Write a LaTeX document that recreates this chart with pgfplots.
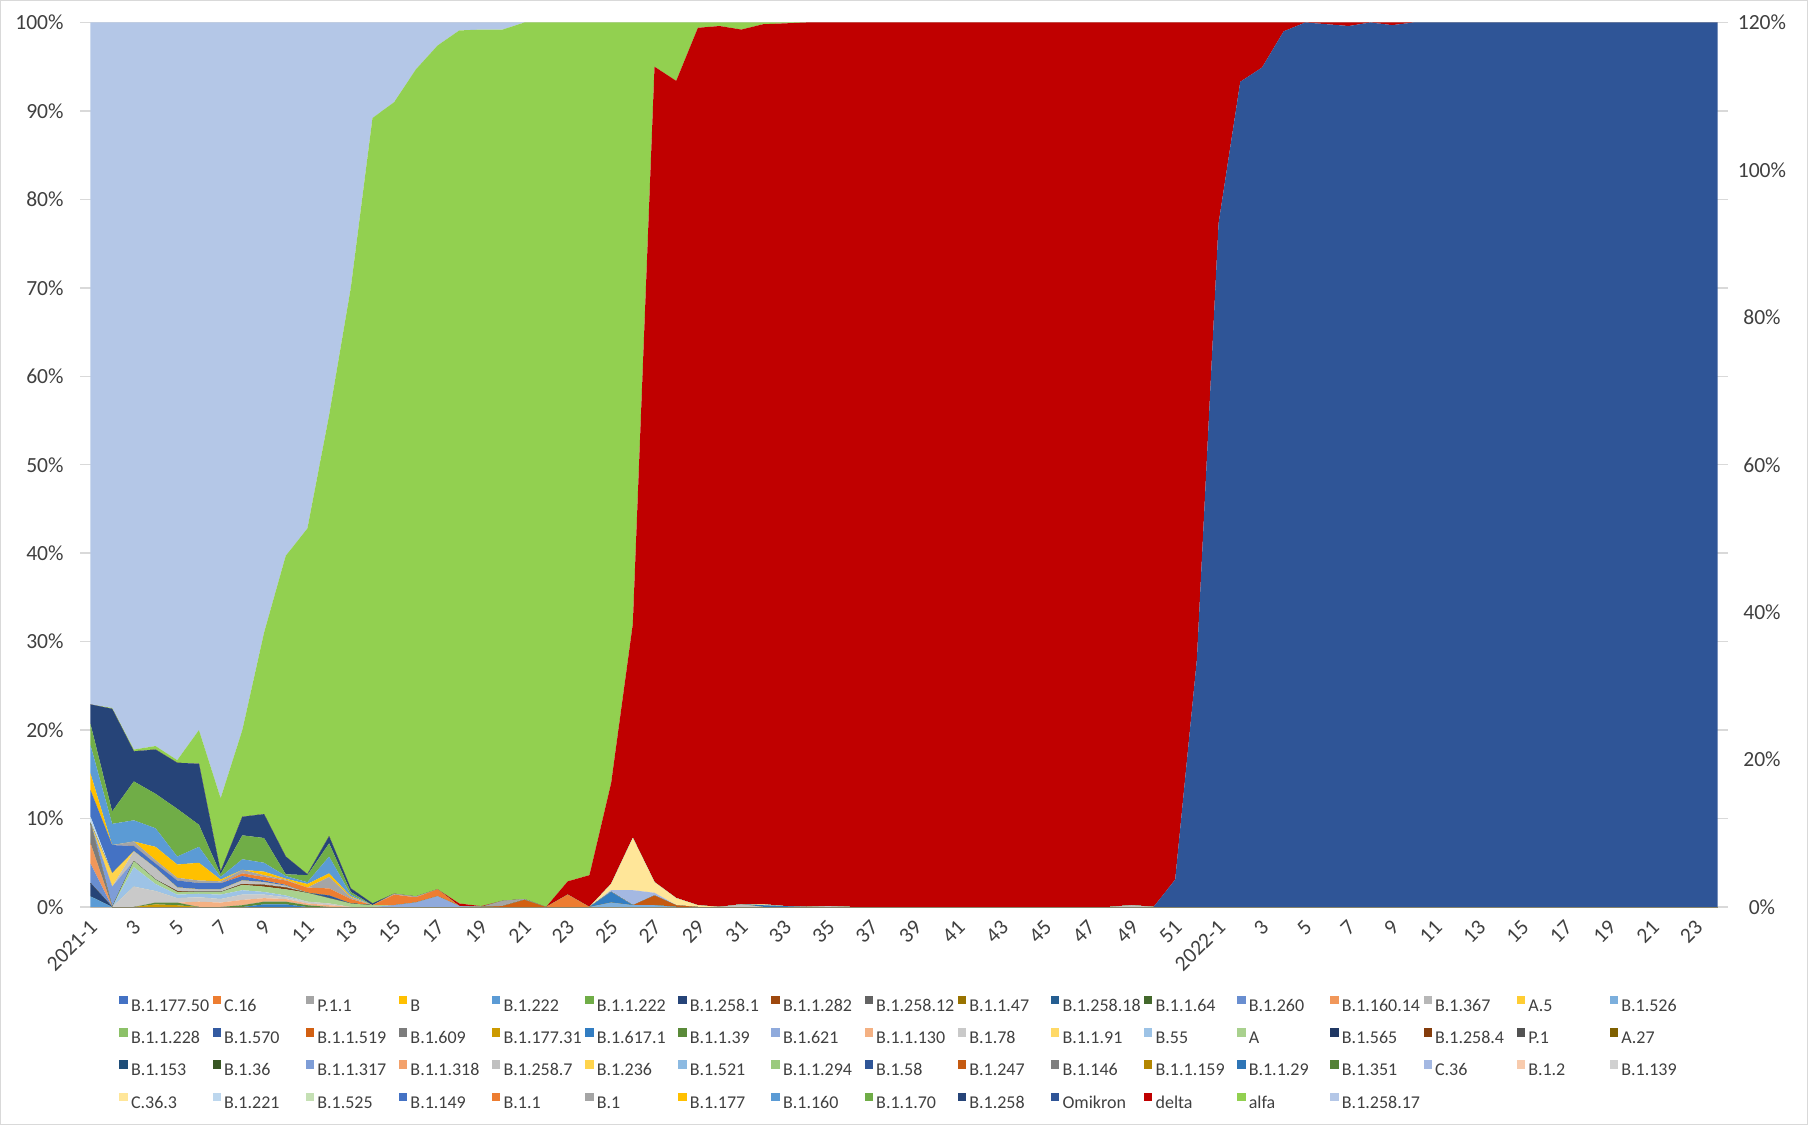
\documentclass[border=0pt]{standalone}
\usepackage{fontspec}
\setmainfont{Carlito}
\usepackage{pgfplots}
\usepackage{pgfplotstable}
\pgfplotsset{compat=1.18}
\definecolor{k1}{HTML}{4472C4}\definecolor{k2}{HTML}{ED7D31}\definecolor{k3}{HTML}{A5A5A5}\definecolor{k4}{HTML}{FFC000}
\definecolor{k5}{HTML}{5B9BD5}\definecolor{k6}{HTML}{70AD47}\definecolor{k7}{HTML}{264478}\definecolor{k8}{HTML}{9E480E}
\definecolor{k9}{HTML}{636363}\definecolor{k10}{HTML}{997300}\definecolor{k11}{HTML}{255E91}\definecolor{k12}{HTML}{43682B}
\definecolor{k13}{HTML}{698ED0}\definecolor{k14}{HTML}{F1975A}\definecolor{k15}{HTML}{B7B7B7}\definecolor{k16}{HTML}{FFCD33}
\definecolor{k17}{HTML}{7CAFDD}\definecolor{k18}{HTML}{8CC168}\definecolor{k19}{HTML}{335AA1}\definecolor{k20}{HTML}{D26012}
\definecolor{k21}{HTML}{7C7C7C}\definecolor{k22}{HTML}{CC9A00}\definecolor{k23}{HTML}{327DC2}\definecolor{k24}{HTML}{5A8A39}
\definecolor{k25}{HTML}{8FAADC}\definecolor{k26}{HTML}{F4B183}\definecolor{k27}{HTML}{C9C9C9}\definecolor{k28}{HTML}{FFD966}
\definecolor{k29}{HTML}{9DC3E6}\definecolor{k30}{HTML}{A9D18E}\definecolor{k31}{HTML}{203864}\definecolor{k32}{HTML}{843C0C}
\definecolor{k33}{HTML}{525252}\definecolor{k34}{HTML}{7F6000}\definecolor{k35}{HTML}{1F4E79}\definecolor{k36}{HTML}{375623}
\definecolor{k37}{HTML}{7E9DD7}\definecolor{k38}{HTML}{F3A16B}\definecolor{k39}{HTML}{C0C0C0}\definecolor{k40}{HTML}{FFD44D}
\definecolor{k41}{HTML}{8CBAE2}\definecolor{k42}{HTML}{9BCA7E}\definecolor{k43}{HTML}{2F5597}\definecolor{k44}{HTML}{C55A11}
\definecolor{k45}{HTML}{7F7F7F}\definecolor{k46}{HTML}{B38600}\definecolor{k47}{HTML}{2E75B6}\definecolor{k48}{HTML}{548235}
\definecolor{k49}{HTML}{A4B8E2}\definecolor{k50}{HTML}{F8CBAD}\definecolor{k51}{HTML}{D0D0D0}\definecolor{k52}{HTML}{FFE699}
\definecolor{k53}{HTML}{BDD7EE}\definecolor{k54}{HTML}{C5E0B4}\definecolor{k55}{HTML}{4472C4}\definecolor{k56}{HTML}{ED7D31}
\definecolor{k57}{HTML}{A5A5A5}\definecolor{k58}{HTML}{FFC000}\definecolor{k59}{HTML}{5B9BD5}\definecolor{k60}{HTML}{70AD47}
\definecolor{k61}{HTML}{264478}\definecolor{k62}{HTML}{2F5597}\definecolor{k63}{HTML}{C00000}\definecolor{k64}{HTML}{92D050}
\definecolor{k65}{HTML}{B4C7E7}
\definecolor{lgrid}{HTML}{D9D9D9}
\definecolor{tickc}{HTML}{404040}
\pgfplotstableread{
x z a5 a7 a13 a14 a17 a20 a21 a22 a23 a24 a25 a26 a27 a29 a30 a32 a37 a39 a40 a43 a44 a47 a49 a52 a53 a55 a56 a57 a58 a59 a60 a61 a62 a63 a64 a65
0 0 1.2 1.5 2.2 2.3 0 0 2.3 0 0 0 0 0 0 0 0 0 0 0 0 0 0 0 0 0 0.7 3.0 0 0 1.9 3.2 2.4 2.2 0 0 0 77.1
1 0 0 0 0 0 0 0 0 0 0 0 0 0 0 0 0 0 2.3 0 1.5 0 0 0 0 0 0 3.2 0 0 0 2.4 1.4 11.6 0 0 0.1 77.5
2 0 0 0 0 0 0 0 0 0 0 0 0 0 2.3 2.2 0.7 0 0 1.1 0 0 0 0 0 0 0 0.6 0 0.5 0 2.4 4.4 3.4 0 0 0.2 82.2
3 0 0 0 0 0 0 0 0 0.3 0 0.2 0 0 1.3 0.8 0.5 0 0 1.3 0 0 0 0 0 0 0 0.5 0 0.4 1.5 2.1 3.9 5.0 0 0 0.4 81.8
4 0 0 0 0 0 0 0 0 0.2 0 0.3 0 0 0.5 0.4 0.3 0.1 0 0.4 0 0 0 0 0 0 0 0.8 0 0.3 1.5 0.9 5.4 5.2 0 0 0.3 83.4
5 0 0 0 0 0 0 0 0 0 0 0 0 0.6 0.5 0.4 0.2 0 0 0.3 0 0 0 0 0 0 0 0.7 0 0.3 2.0 1.8 2.5 6.9 0 0 3.8 80.0
6 0 0 0 0 0 0 0 0 0 0 0 0 0.5 0.4 0.5 0.3 0 0 0.3 0 0 0 0 0 0 0 0.7 0 0.2 0.2 0.3 0.3 0.3 0 0 8.3 87.7
7 0 0 0 0 0 0 0 0 0 0 0.2 0 0.6 0.6 0.5 0.6 0.1 0 0.4 0 0 0 0 0 0 0 0.5 0.3 0.4 0 1.2 2.7 2.1 0 0 9.8 80.0
8 0 0 0 0 0 0 0 0 0 0.3 0.3 0 0.4 0.4 0.3 0.6 0.2 0 0.3 0 0 0 0 0 0 0 0.2 0.4 0.2 0.4 1.0 2.8 2.7 0 0 20.5 69.0
9 0 0 0 0 0 0 0 0 0 0.3 0.3 0 0.3 0.2 0.2 0.7 0.2 0 0.2 0 0 0 0 0 0 0 0.1 0.5 0.1 0.1 0.3 0.2 2.0 0 0 34.0 60.3
10 0 0 0 0 0 0 0 0 0 0 0.2 0 0.2 0.2 0 1.0 0 0 0 0 0 0 0 0 0 0 0 0.6 0 0.4 0.2 0.8 0.1 0 0 39.1 57.2
11 0 0 0 0 0 0 0 0 0 0 0 0 0.2 0.2 0 0.6 0 0 0 0 0.3 0 0 0 0 0 0 0.8 1.3 0.4 1.9 1.5 0.8 0 0 47.6 44.4
12 0 0 0 0 0 0 0 0 0 0 0 0 0 0 0 0.4 0 0 0 0 0 0 0 0 0 0 0 0.5 0.2 0.1 0.2 0.3 0.4 0 0 67.9 30.0
13 0 0 0 0 0 0 0 0 0 0 0 0 0 0 0 0.2 0 0 0 0 0 0 0 0 0 0 0 0 0 0 0 0 0.2 0 0 88.8 10.8
14 0 0 0 0 0 0 0 0 0 0 0 0.2 0 0 0 0 0 0 0 0 0 0 0 0 0 0 0 1.2 0.1 0 0 0 0 0 0 89.5 9.0
15 0 0 0 0 0 0 0 0 0 0 0 0.5 0 0 0 0 0 0 0 0 0 0 0 0 0 0 0 0.6 0.1 0 0 0 0 0 0 93.5 5.3
16 0 0 0 0 0 0 0 0 0 0 0 1.2 0 0 0 0 0 0 0 0 0 0 0 0 0 0 0 0.8 0 0 0 0 0 0 0 95.4 2.6
17 0 0 0 0 0 0 0 0 0 0 0 0.1 0 0 0 0 0 0 0 0 0 0 0 0 0 0 0 0 0 0 0 0 0 0 0.3 98.7 0.9
18 0 0 0 0 0 0 0 0 0 0 0 0 0 0 0 0 0 0 0 0 0 0 0 0 0 0 0 0 0 0 0 0 0 0 0.1 99.1 0.8
19 0 0 0 0 0 0 0.1 0 0 0 0 0 0 0 0 0 0 0 0 0 0 0 0 0 0 0 0 0 0.6 0 0 0 0 0 0 98.5 0.8
20 0 0 0 0 0 0 0.8 0 0 0 0 0 0 0 0 0 0 0 0 0 0 0 0 0 0 0 0 0 0.1 0 0 0 0 0 0 99.1 0
21 0 0 0 0 0 0 0 0 0 0 0 0 0 0 0 0 0 0 0 0 0 0 0 0 0 0 0 0 0 0 0 0 0 0 0 100 0
22 0 0 0 0 0 0 0 0 0 0 0 0 0 0 0 0 0 0 0 0 0 0 0 0 0 0 0 1.4 0 0 0 0 0 0 1.5 97.1 0
23 0 0 0 0 0 0 0 0 0 0 0 0 0 0 0 0 0 0 0 0 0 0 0 0 0 0 0 0 0 0 0 0 0 0 3.6 96.4 0
24 0 0 0 0 0 0.5 0 0 0 1.2 0 0 0 0 0 0 0 0 0 0 0 0 0 0.2 0.7 0 0 0 0 0 0 0 0 0 11.4 86.0 0
25 0 0 0 0 0 0.2 0 0 0 0 0 0 0 0 0 0 0 0 0 0 0 0 0 1.7 5.9 0 0 0 0 0 0 0 0 0 24.2 68.0 0
26 0 0 0 0 0 0.2 0 0 0 0 0 0 0 0 0 0 0 0 0 0 0 1.1 0 0.3 1.2 0 0 0 0 0 0 0 0 0 92.2 5.0 0
27 0 0 0 0 0 0 0 0 0 0 0 0 0 0 0 0 0 0 0 0 0 0.2 0 0 0.8 0 0 0 0 0 0 0 0 0 92.4 6.6 0
28 0 0 0 0 0 0 0 0 0 0 0 0 0 0 0 0 0 0 0 0 0 0 0 0 0.2 0 0 0 0 0 0 0 0 0 99.2 0.6 0
29 0 0 0 0 0 0 0 0 0 0 0 0 0 0 0 0 0 0 0 0 0 0 0 0 0 0 0 0 0 0 0 0 0 0 99.6 0.4 0
30 0 0 0 0 0 0 0 0 0 0 0 0 0 0 0 0 0 0 0.3 0 0 0 0 0 0 0 0 0 0 0 0 0 0 0 98.9 0.8 0
31 0 0 0 0 0 0 0 0 0 0 0 0 0 0 0 0 0 0 0 0 0 0 0.2 0 0.1 0 0 0 0 0 0 0 0 0 99.5 0.2 0
32 0 0 0 0 0 0 0 0 0 0 0 0 0 0 0 0 0 0 0 0 0 0 0.1 0 0 0 0 0 0 0 0 0 0 0 99.8 0.1 0
33 0 0 0 0 0 0 0 0 0 0 0 0 0 0 0 0 0 0 0 0 0 0 0 0 0 0 0 0 0 0 0 0 0 0 100 0 0
34 0 0 0 0 0 0 0 0 0 0 0 0 0 0 0 0 0 0 0.1 0 0 0 0 0 0 0 0 0 0 0 0 0 0 0 99.9 0 0
35 0 0 0 0 0 0 0 0 0 0 0 0 0 0 0 0 0 0 0 0 0 0 0 0 0 0 0 0 0 0 0 0 0 0 100 0 0
36 0 0 0 0 0 0 0 0 0 0 0 0 0 0 0 0 0 0 0 0 0 0 0 0 0 0 0 0 0 0 0 0 0 0 100 0 0
37 0 0 0 0 0 0 0 0 0 0 0 0 0 0 0 0 0 0 0 0 0 0 0 0 0 0 0 0 0 0 0 0 0 0 100 0 0
38 0 0 0 0 0 0 0 0 0 0 0 0 0 0 0 0 0 0 0 0 0 0 0 0 0 0 0 0 0 0 0 0 0 0 100 0 0
39 0 0 0 0 0 0 0 0 0 0 0 0 0 0 0 0 0 0 0 0 0 0 0 0 0 0 0 0 0 0 0 0 0 0 100 0 0
40 0 0 0 0 0 0 0 0 0 0 0 0 0 0 0 0 0 0 0 0 0 0 0 0 0 0 0 0 0 0 0 0 0 0 100 0 0
41 0 0 0 0 0 0 0 0 0 0 0 0 0 0 0 0 0 0 0 0 0 0 0 0 0 0 0 0 0 0 0 0 0 0 100 0 0
42 0 0 0 0 0 0 0 0 0 0 0 0 0 0 0 0 0 0 0 0 0 0 0 0 0 0 0 0 0 0 0 0 0 0 100 0 0
43 0 0 0 0 0 0 0 0 0 0 0 0 0 0 0 0 0 0 0 0 0 0 0 0 0 0 0 0 0 0 0 0 0 0 100 0 0
44 0 0 0 0 0 0 0 0 0 0 0 0 0 0 0 0 0 0 0 0 0 0 0 0 0 0 0 0 0 0 0 0 0 0 100 0 0
45 0 0 0 0 0 0 0 0 0 0 0 0 0 0 0 0 0 0 0 0 0 0 0 0 0 0 0 0 0 0 0 0 0 0 100 0 0
46 0 0 0 0 0 0 0 0 0 0 0 0 0 0 0 0 0 0 0 0 0 0 0 0 0 0 0 0 0 0 0 0 0 0 100 0 0
47 0 0 0 0 0 0 0 0 0 0 0 0 0 0 0 0 0 0 0 0 0 0 0 0 0 0 0 0 0 0 0 0 0 0 100 0 0
48 0 0 0 0 0 0 0 0 0 0 0 0 0 0 0 0 0 0 0.2 0 0 0 0 0 0 0 0 0 0 0 0 0 0 0 99.8 0 0
49 0 0 0 0 0 0 0 0 0 0 0 0 0 0 0 0 0 0 0 0 0 0 0 0 0 0 0 0 0 0 0 0 0 0 100 0 0
50 0 0 0 0 0 0 0 0 0 0 0 0 0 0 0 0 0 0 0 0 0 0 0 0 0 0 0 0 0 0 0 0 0 3.1 96.9 0 0
51 0 0 0 0 0 0 0 0 0 0 0 0 0 0 0 0 0 0 0 0 0 0 0 0 0 0 0 0 0 0 0 0 0 28.0 72.0 0 0
52 0 0 0 0 0 0 0 0 0 0 0 0 0 0 0 0 0 0 0 0 0 0 0 0 0 0 0 0 0 0 0 0 0 77.3 22.7 0 0
53 0 0 0 0 0 0 0 0 0 0 0 0 0 0 0 0 0 0 0 0 0 0 0 0 0 0 0 0 0 0 0 0 0 93.3 6.7 0 0
54 0 0 0 0 0 0 0 0 0 0 0 0 0 0 0 0 0 0 0 0 0 0 0 0 0 0 0 0 0 0 0 0 0 94.9 5.1 0 0
55 0 0 0 0 0 0 0 0 0 0 0 0 0 0 0 0 0 0 0 0 0 0 0 0 0 0 0 0 0 0 0 0 0 99.0 1.0 0 0
56 0 0 0 0 0 0 0 0 0 0 0 0 0 0 0 0 0 0 0 0 0 0 0 0 0 0 0 0 0 0 0 0 0 100 0 0 0
57 0 0 0 0 0 0 0 0 0 0 0 0 0 0 0 0 0 0 0 0 0 0 0 0 0 0 0 0 0 0 0 0 0 99.8 0.2 0 0
58 0 0 0 0 0 0 0 0 0 0 0 0 0 0 0 0 0 0 0 0 0 0 0 0 0 0 0 0 0 0 0 0 0 99.6 0.4 0 0
59 0 0 0 0 0 0 0 0 0 0 0 0 0 0 0 0 0 0 0 0 0 0 0 0 0 0 0 0 0 0 0 0 0 100 0 0 0
60 0 0 0 0 0 0 0 0 0 0 0 0 0 0 0 0 0 0 0 0 0 0 0 0 0 0 0 0 0 0 0 0 0 99.7 0.3 0 0
61 0 0 0 0 0 0 0 0 0 0 0 0 0 0 0 0 0 0 0 0 0 0 0 0 0 0 0 0 0 0 0 0 0 100 0 0 0
62 0 0 0 0 0 0 0 0 0 0 0 0 0 0 0 0 0 0 0 0 0 0 0 0 0 0 0 0 0 0 0 0 0 100 0 0 0
63 0 0 0 0 0 0 0 0 0 0 0 0 0 0 0 0 0 0 0 0 0 0 0 0 0 0 0 0 0 0 0 0 0 100 0 0 0
64 0 0 0 0 0 0 0 0 0 0 0 0 0 0 0 0 0 0 0 0 0 0 0 0 0 0 0 0 0 0 0 0 0 100 0 0 0
65 0 0 0 0 0 0 0 0 0 0 0 0 0 0 0 0 0 0 0 0 0 0 0 0 0 0 0 0 0 0 0 0 0 100 0 0 0
66 0 0 0 0 0 0 0 0 0 0 0 0 0 0 0 0 0 0 0 0 0 0 0 0 0 0 0 0 0 0 0 0 0 100 0 0 0
67 0 0 0 0 0 0 0 0 0 0 0 0 0 0 0 0 0 0 0 0 0 0 0 0 0 0 0 0 0 0 0 0 0 100 0 0 0
68 0 0 0 0 0 0 0 0 0 0 0 0 0 0 0 0 0 0 0 0 0 0 0 0 0 0 0 0 0 0 0 0 0 100 0 0 0
69 0 0 0 0 0 0 0 0 0 0 0 0 0 0 0 0 0 0 0 0 0 0 0 0 0 0 0 0 0 0 0 0 0 100 0 0 0
70 0 0 0 0 0 0 0 0 0 0 0 0 0 0 0 0 0 0 0 0 0 0 0 0 0 0 0 0 0 0 0 0 0 100 0 0 0
71 0 0 0 0 0 0 0 0 0 0 0 0 0 0 0 0 0 0 0 0 0 0 0 0 0 0 0 0 0 0 0 0 0 100 0 0 0
72 0 0 0 0 0 0 0 0 0 0 0 0 0 0 0 0 0 0 0 0 0 0 0 0 0 0 0 0 0 0 0 0 0 100 0 0 0
73 0 0 0 0 0 0 0 0 0 0 0 0 0 0 0 0 0 0 0 0 0 0 0 0 0 0 0 0 0 0 0 0 0 100 0 0 0
74 0 0 0 0 0 0 0 0 0 0 0 0 0 0 0 0 0 0 0 0 0 0 0 0 0 0 0 0 0 0 0 0 0 100 0 0 0
75 0 0 0 0 0 0 0 0 0 0 0 0 0 0 0 0 0 0 0 0 0 0 0 0 0 0 0 0 0 0 0 0 0 100 0 0 0
}\data
\newcommand{\ser}[3]{\addplot[fill=#1,draw=none] table[x=x,y=#2]{\data} \closedcycle;\addlegendentry{\makebox[40.8pt][l]{#3}}}
\newcommand{\tfont}{\fontsize{10.8}{13}\selectfont}
\begin{document}
\begin{tikzpicture}
\draw[draw=lgrid, line width=0.5pt] (-39.8pt,-109pt) rectangle (864.2pt,453.5pt);
\begin{axis}[
  at={(0,0)}, anchor=south west,
  scale only axis, width=824.4pt, height=442.5pt,
  xmin=-0.48, xmax=75.48, ymin=0, ymax=100,
  stack plots=y,
  axis x line*=bottom, axis y line*=left,
  x axis line style={draw=lgrid, line width=0.75pt, -},
  y axis line style={draw=none},
  ymajorgrids, grid style={draw=lgrid, line width=0.75pt},
  major tick length=0pt,
  ytick={0,10,20,30,40,50,60,70,80,90,100},
  yticklabels={0\%,10\%,20\%,30\%,40\%,50\%,60\%,70\%,80\%,90\%,100\%},
  yticklabel style={font=\tfont, text=tickc, xshift=-4.7pt},
  xtick={0,2,...,74},
  xticklabels={2021-1,3,5,7,9,11,13,15,17,19,21,23,25,27,29,31,33,35,37,39,41,43,45,47,49,51,2022-1,3,5,7,9,11,13,15,17,19,21,23},
  xticklabel style={font=\tfont, text=tickc, xshift=4pt, yshift=-6pt, rotate=45, anchor=east},
  legend columns=17,
  legend cell align=left,
  legend image code/.code={\fill[#1] (0pt,0.6pt) rectangle (4.2pt,4.8pt);},
  legend style={draw=none, fill=none, inner sep=0pt, outer sep=0pt,
    at={(0.0239,-0.1006)}, anchor=north west,
    font=\fontsize{9}{10.8}\selectfont, text=tickc,
    column sep=0pt, row sep=8.3pt,
    /tikz/every odd column/.append style={column sep=1.6pt},
    nodes={inner sep=0pt, text height=6pt, text depth=0pt}},
]
\ser{k1}{z}{B.1.177.50}
\ser{k2}{z}{C.16}
\ser{k3}{z}{P.1.1}
\ser{k4}{z}{B}
\ser{k5}{a5}{B.1.222}
\ser{k6}{z}{B.1.1.222}
\ser{k7}{a7}{B.1.258.1}
\ser{k8}{z}{B.1.1.282}
\ser{k9}{z}{B.1.258.12}
\ser{k10}{z}{B.1.1.47}
\ser{k11}{z}{B.1.258.18}
\ser{k12}{z}{B.1.1.64}
\ser{k13}{a13}{B.1.260}
\ser{k14}{a14}{B.1.160.14}
\ser{k15}{z}{B.1.367}
\ser{k16}{z}{A.5}
\ser{k17}{a17}{B.1.526}
\ser{k18}{z}{B.1.1.228}
\ser{k19}{z}{B.1.570}
\ser{k20}{a20}{B.1.1.519}
\ser{k21}{a21}{B.1.609}
\ser{k22}{a22}{B.1.177.31}
\ser{k23}{a23}{B.1.617.1}
\ser{k24}{a24}{B.1.1.39}
\ser{k25}{a25}{B.1.621}
\ser{k26}{a26}{B.1.1.130}
\ser{k27}{a27}{B.1.78}
\ser{k28}{z}{B.1.1.91}
\ser{k29}{a29}{B.55}
\ser{k30}{a30}{A}
\ser{k31}{z}{B.1.565}
\ser{k32}{a32}{B.1.258.4}
\ser{k33}{z}{P.1}
\ser{k34}{z}{A.27}
\ser{k35}{z}{B.1.153}
\ser{k36}{z}{B.1.36}
\ser{k37}{a37}{B.1.1.317}
\ser{k38}{z}{B.1.1.318}
\ser{k39}{a39}{B.1.258.7}
\ser{k40}{a40}{B.1.236}
\ser{k41}{z}{B.1.521}
\ser{k42}{z}{B.1.1.294}
\ser{k43}{a43}{B.1.58}
\ser{k44}{a44}{B.1.247}
\ser{k45}{z}{B.1.146}
\ser{k46}{z}{B.1.1.159}
\ser{k47}{a47}{B.1.1.29}
\ser{k48}{z}{B.1.351}
\ser{k49}{a49}{C.36}
\ser{k50}{z}{B.1.2}
\ser{k51}{z}{B.1.139}
\ser{k52}{a52}{C.36.3}
\ser{k53}{a53}{B.1.221}
\ser{k54}{z}{B.1.525}
\ser{k55}{a55}{B.1.149}
\ser{k56}{a56}{B.1.1}
\ser{k57}{a57}{B.1}
\ser{k58}{a58}{B.1.177}
\ser{k59}{a59}{B.1.160}
\ser{k60}{a60}{B.1.1.70}
\ser{k61}{a61}{B.1.258}
\ser{k62}{a62}{Omikron}
\ser{k63}{a63}{delta}
\ser{k64}{a64}{alfa}
\ser{k65}{a65}{B.1.258.17}
\node[font=\fontsize{16.2}{19}\selectfont, text=black] at (axis cs:5.94,59.2) {B.1.258.17};
\node[font=\fontsize{16.2}{19}\selectfont, text=black] at (axis cs:17.0,59.2) {alfa};
\node[font=\fontsize{16.2}{19}\selectfont, text=black] at (axis cs:39.2,59.2) {delta};
\node[font=\fontsize{16.2}{19}\selectfont, text=black] at (axis cs:62.5,59.2) {omikron};
\end{axis}
\begin{axis}[
  at={(0,0)}, anchor=south west,
  scale only axis, width=824.4pt, height=442.5pt,
  xmin=-0.48, xmax=75.48, ymin=0, ymax=120,
  axis x line=none, axis y line*=right,
  y axis line style={draw=none},
  major tick length=0pt,
  ytick={0,20,40,60,80,100,120},
  yticklabels={0\%,20\%,40\%,60\%,80\%,100\%,120\%},
  yticklabel style={font=\tfont, text=tickc, anchor=center, xshift=17pt},
]
\end{axis}
\end{tikzpicture}
\end{document}
